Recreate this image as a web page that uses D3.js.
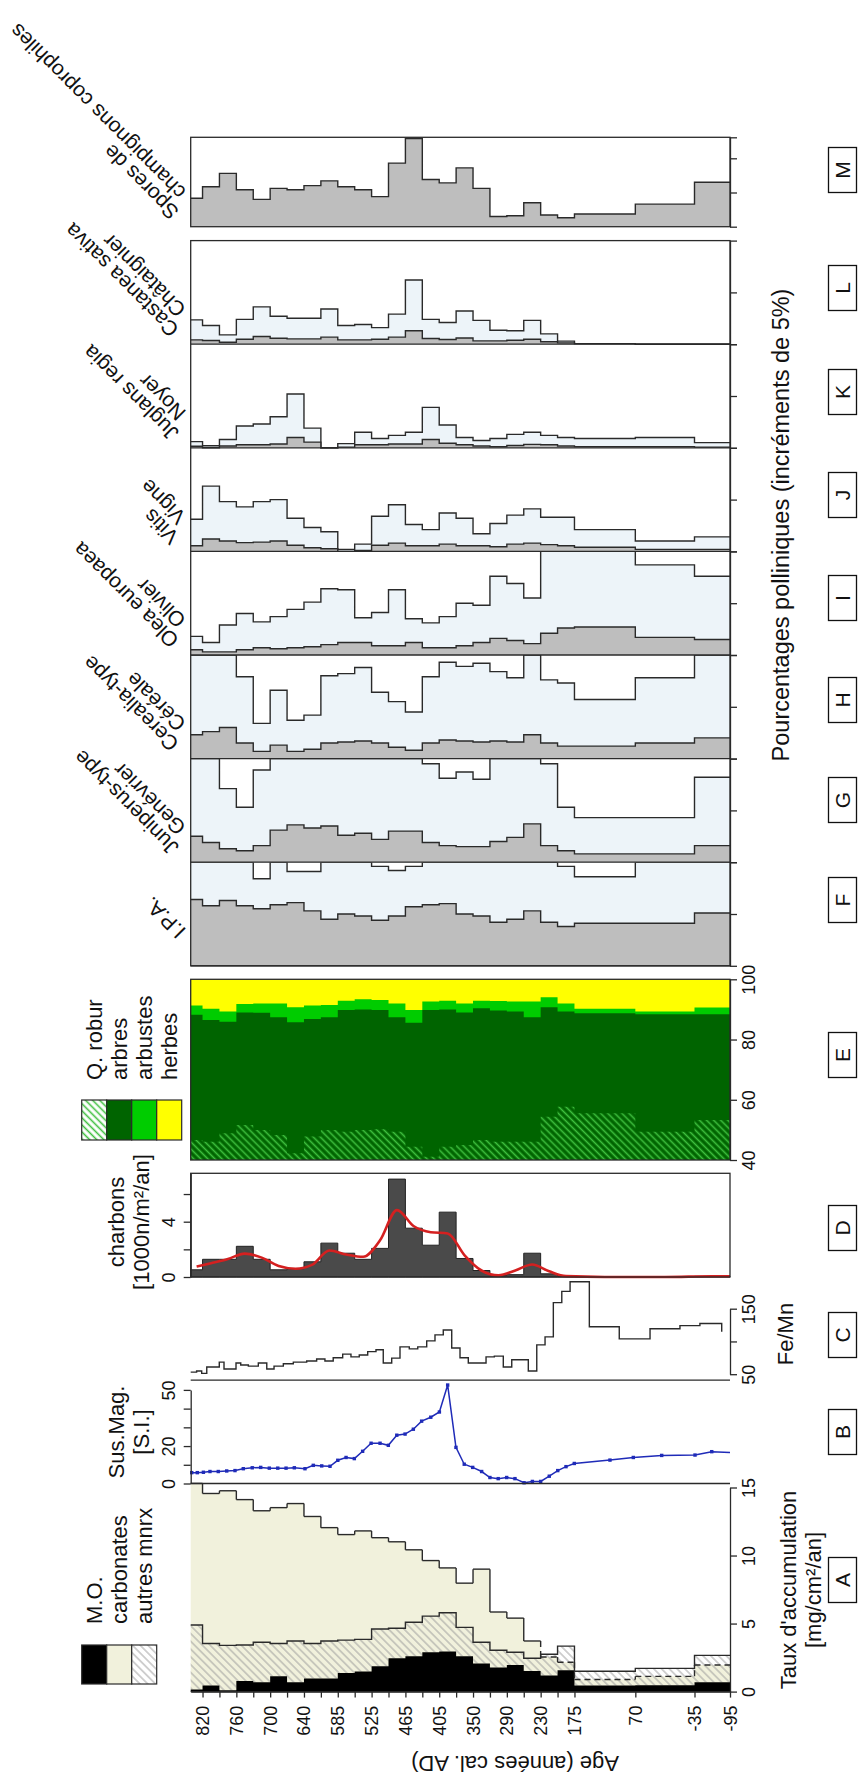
<!DOCTYPE html>
<html><head><meta charset="utf-8">
<script src="https://cdn.jsdelivr.net/npm/d3@7"></script>
<style>
body{margin:0;background:#fff}
svg{display:block}
text{font-family:"Liberation Sans",Arial,Helvetica,sans-serif;fill:#111}
</style></head>
<body><svg width="861" height="1780"></svg>
<script>
// ================= DATA =================
const binEdges=[0,0.7,1.7,2.7,3.7,4.7,5.7,6.7,7.7,8.7,9.7,10.7,11.7,12.7,13.7,14.7,15.7,16.7,17.7,18.7,19.7,20.7,21.7,22.7,26.3,29.8,31.9];
const ageTickDepth=[0.7,2.7,4.7,6.7,8.7,10.7,12.7,14.7,16.7,18.7,20.7,22.7,26.3,29.8,31.9];
const ageTickLabel=["820","760","700","640","585","525","465","405","350","290","230","175","70","-35","-95"];
const ageMinorDepth=[1.7,3.7,5.7,7.7,9.7,11.7,13.7,15.7,17.7,19.7,21.7];

// A : accumulation rates (mg/cm2/an), cumulative tops
const accMO=[0.15,0.44,0.1,0.77,0.68,1.12,0.68,0.97,0.97,1.36,1.48,1.86,2.45,2.6,2.89,2.95,2.6,2.07,1.77,1.95,1.51,1.18,1.56,0.44,0.47,0.68];
const accMOAutres=[4.9,3.54,3.4,3.43,3.63,3.54,3.72,3.54,3.72,3.78,3.84,4.6,4.66,5.1,5.55,5.79,4.72,3.63,3.04,2.89,2.45,2.75,3.34,1.5,1.71,2.66];
const accMOCarb=[15.3,14.56,14.76,14.11,13.29,13.52,13.82,12.87,12.05,11.54,11.81,11.31,11.01,10.42,9.63,9.09,7.97,9.0,5.85,5.4,3.72,2.54,2.16,0.89,1.12,1.95];
const accLegend=["M.O.","carbonates","autres mnrx"];

// B : magnetic susceptibility
const susDepth=[0.06,0.39,0.75,1.14,1.63,2.13,2.62,3.11,3.64,4.14,4.65,5.15,5.64,6.13,6.76,7.25,7.75,8.24,8.7,9.19,9.68,10.17,10.67,11.2,11.69,12.19,12.68,13.17,13.66,14.2,14.71,15.2,15.69,16.18,16.68,17.21,17.7,18.19,18.69,19.18,19.72,20.21,20.7,21.21,21.71,22.2,22.69,24.8,26.18,27.86,29.83,30.82,31.9];
const susVal=[5.8,5.8,6.0,6.4,6.4,6.7,6.9,7.9,8.4,8.6,8.2,8.2,8.2,8.4,7.9,9.7,9.4,9.2,12.4,13.9,13.3,17.2,21.5,21.5,20.4,25.8,26.4,29.0,33.3,35.4,38.2,52.6,19.3,10.3,8.6,6.4,3.2,2.6,3.2,2.6,0.4,1.1,1.1,3.9,6.9,9.0,10.7,12.5,13.9,15.0,15.2,17.0,16.5];

// C : Fe/Mn
const feDepth=[0,0.35,0.65,0.95,1.69,1.97,2.68,2.96,3.41,4.0,4.5,4.93,5.48,6.07,6.86,7.45,7.94,8.43,8.99,9.48,9.97,10.47,10.96,11.39,11.89,12.38,12.93,13.43,13.96,14.45,14.94,15.44,15.93,16.42,17.47,17.96,18.49,18.99,19.97,20.47,20.96,21.45,21.95,22.44,23.58,25.35,27.17,28.94,30.12,31.41];
const feVal=[53.1,54.9,51.2,61,68.4,58,67.2,64.1,62.3,67.2,58,62.3,66,68.4,70.2,73.3,70.2,75.2,80.7,76.4,79.4,84.4,87.4,67.2,74.5,91.7,88.7,91.7,100.9,110.1,117.5,89.9,75.2,67.2,76.4,77.6,61,72.1,54.9,94.8,107,159.2,176.4,191.1,122.4,104,119.3,124.2,127.3,115];

// D : charcoal (1000 n/m2/an) and smoothed curve
const charbons=[0.52,1.28,1.28,2.22,1.28,0.52,0.6,1.1,2.45,1.72,1.28,2.07,7.08,3.53,2.3,4.69,1.34,0.47,0.12,0.17,1.72,0.23,0.06,0.02,0.02,0.05];
const charSmooth=[0.76,1.0,1.3,1.69,1.4,0.8,0.6,0.9,1.92,1.63,1.46,2.65,4.84,3.67,3.24,3.15,1.57,0.47,0.12,0.47,0.9,0.41,0.06,0,0,0.05];

// E : pollen sums (cumulative %)
const qRobur=[46.6,46.1,48.9,51.6,50.0,48.3,42.2,47.8,50.0,49.4,50.0,50.2,49.4,44.4,41.1,44.4,45.0,46.6,46.1,46.1,46.1,54.4,57.7,55.5,49.4,53.3];
const arbres=[88.2,86.5,85.9,89.0,88.9,87.4,85.7,86.8,87.4,89.8,90.0,89.8,87.4,85.6,89.8,90.0,89.0,90.4,89.6,89.3,87.4,90.7,89.3,88.7,88.4,88.4];
const arbustes=[91.3,90.2,89.3,91.8,92.0,92.0,90.7,91.3,91.5,92.9,93.4,93.1,92.0,89.8,92.6,92.9,92.0,92.9,92.8,92.6,92.6,94.0,92.0,90.2,89.3,90.6];
const sumLegend=["Q. robur","arbres","arbustes","herbes"];

// F-M : pollen taxa (panel units, 5 % per tick), gray = value, light = exaggerated
const ipaGray=[6.4,5.8,6.3,5.8,5.5,5.9,6.1,5.3,4.5,5.0,4.8,4.4,4.8,5.7,5.9,6.0,5.0,4.8,4.2,4.5,5.3,4.2,3.8,4.1,4.1,5.1];
const ipaLight=[10,10,10,10,8.4,10,9.1,9.1,10,10,10,9.6,9.2,9.6,10,10,10,10,10,10,10,10,9.6,8.6,10,10];
const juniGray=[2.5,1.9,1.3,1.1,1.6,3.1,3.6,3.3,3.5,2.6,2.8,2.2,3.0,3.0,1.9,1.6,1.5,1.5,2.0,2.4,3.7,1.6,1.1,0.8,0.8,1.6];
const juniLight=[10,10,7.1,5.3,8.9,10,10,10,10,10,10,10,10,10,9.5,8.1,8.7,8.0,10,10,10,9.5,5.3,4.3,4.3,8.2];
const cereGray=[2.3,2.6,3.0,1.5,0.7,1.3,0.7,0.9,1.5,1.6,1.7,1.5,1.1,0.8,1.5,1.8,1.7,1.6,1.7,1.6,2.3,1.5,1.2,1.2,1.5,2.0];
const cereLight=[10,10,10,7.9,3.4,6.6,3.7,4.2,8.0,8.2,8.8,6.4,5.5,4.5,7.9,9.3,8.9,9.2,8.4,7.8,10,7.6,7.3,5.7,7.8,10];
const oleaGray=[0.5,0.3,0.3,0.5,0.7,0.6,0.7,0.8,1.0,1.2,1.2,0.9,0.9,1.2,0.7,0.7,0.9,1.2,1.6,1.4,1.1,2.1,2.6,2.7,1.7,1.5];
const oleaLight=[1.8,1.2,2.9,4.0,3.2,3.7,4.4,5.1,6.4,6.3,3.6,4.1,6.3,3.5,3.1,3.7,5.0,4.8,7.6,6.9,5.5,10,10,10,8.7,7.6];
const vitisGray=[0.55,1.2,1.0,0.85,0.9,1.0,0.6,0.35,0.25,0,0.1,0.6,0.8,0.55,0.55,0.7,0.55,0.55,0.45,0.7,0.8,0.65,0.55,0.4,0.2,0.2];
const vitisLight=[3.1,6.3,4.8,4.3,4.8,5.0,3.2,2.3,1.9,0.2,0.7,3.4,4.5,2.6,2.1,3.7,3.2,1.7,2.7,3.5,4.1,3.3,3.3,2.1,1.0,1.4];
const juglGray=[0.15,0,0.18,0.3,0.3,0.36,1.0,0.55,0,0.07,0.3,0.3,0.36,0.36,0.8,0.44,0.3,0.18,0.11,0.22,0.33,0.3,0.18,0.11,0.11,0.07];
const juglLight=[0.6,0.2,0.8,2.1,2.3,3.0,5.2,1.9,0,0.4,1.5,0.9,1.2,1.5,3.9,2.2,1.0,0.7,0.9,1.3,1.5,1.2,1.0,0.9,1.0,0.5];
const castGray=[0.42,0.35,0.19,0.48,0.74,0.58,0.51,0.51,0.68,0.42,0.42,0.48,0.68,1.3,0.55,0.45,0.6,0.32,0.32,0.38,0.48,0.23,0.13,0.06,0,0];
const castLight=[2.35,1.8,0.9,2.4,3.6,2.7,2.5,2.5,3.4,1.8,1.9,1.6,2.9,6.2,2.4,2.1,3.2,2.3,1.35,1.3,2.3,1.0,0.3,0.06,0,0];
const sporesGray=[4.15,5.85,7.8,5.4,4.0,5.6,5.4,6.0,6.7,5.85,5.4,4.4,9.3,12.9,6.9,6.4,8.6,5.6,1.5,1.6,3.5,1.7,1.3,1.85,3.3,6.5];
const taxaLabels=[["I.P.A."],["Juniperus-type","Genévrier"],["Cerealia-type","Céréale"],["Olea europaea","Olivier"],["Vitis","Vigne"],["Juglans regia","Noyer"],["Castanea sativa","Châtaignier"],["Spores de","champignons coprophiles"]];
const panelLetters=["A","B","C","D","E","F","G","H","I","J","K","L","M"];

// ================= DRAWING =================
const svg=d3.select("svg");
const X0=190.7,X1=730;
const dScale=d3.scaleLinear().domain([0,31.9]).range([X0,X1]);
const steps=vals=>binEdges.map((e,i)=>({d:e,v:vals[Math.min(i,vals.length-1)]}));
const stepArea=(ys,vals,base=0)=>d3.area().curve(d3.curveStepAfter).x(p=>dScale(p.d)).y0(ys(base)).y1(p=>ys(p.v))(steps(vals));
const stepLine=(ys,vals)=>d3.line().curve(d3.curveStepAfter).x(p=>dScale(p.d)).y(p=>ys(p.v))(steps(vals));
const LINE="#2a2a2a", T1=22, T2=18, TL=21;

const defs=svg.append("defs");
function hatch(id,color,gap,sw,bg){
  const p=defs.append("pattern").attr("id",id).attr("patternUnits","userSpaceOnUse")
    .attr("width",gap).attr("height",gap).attr("patternTransform","rotate(-45)");
  if(bg)p.append("rect").attr("width",gap).attr("height",gap).attr("fill",bg);
  p.append("line").attr("x1",gap/2).attr("y1",0).attr("x2",gap/2).attr("y2",gap).attr("stroke",color).attr("stroke-width",sw);
}
hatch("hA","#9a9a9a",5.5,0.9,null);
hatch("hAleg","#9a9a9a",5.5,0.9,"#fff");
hatch("hE","#3fbf3f",5,1.6,null);
hatch("hEleg","#3fbf3f",5,1.6,"#fff");

function vtext(x,y,str,anchor,size,rot=-90){
  return svg.append("text").attr("transform",`translate(${x},${y}) rotate(${rot})`)
    .attr("text-anchor",anchor).attr("dominant-baseline","central").attr("font-size",size).text(str);
}
function styleAxis(g,offset){
  g.select(".domain").attr("stroke",LINE).attr("stroke-width",1.3);
  g.selectAll(".tick line").attr("stroke",LINE).attr("stroke-width",1.3);
  g.selectAll(".tick text").attr("x",0).attr("dy",null).attr("transform",`translate(${offset},0) rotate(-90)`)
    .attr("text-anchor","middle").attr("dominant-baseline","central").attr("font-size",T2).attr("fill","#111");
  g.attr("font-family",null);
}
function rightAxis(ys,ticks,labels,offset=19){
  const g=svg.append("g").attr("transform",`translate(${X1},0)`)
    .call(d3.axisRight(ys).tickValues(ticks).tickSize(7).tickSizeOuter(0).tickFormat((d,i)=>labels?labels[i]:""));
  styleAxis(g,offset);return g;
}
function leftAxis(ys,ticks,labels,offset=-22){
  const g=svg.append("g").attr("transform",`translate(${X0},0)`)
    .call(d3.axisLeft(ys).tickValues(ticks).tickSize(7).tickSizeOuter(0).tickFormat((d,i)=>labels[i]));
  styleAxis(g,offset);return g;
}
const hline=(y,x0=X0,x1=X1)=>svg.append("line").attr("x1",x0).attr("x2",x1).attr("y1",y).attr("y2",y).attr("stroke",LINE).attr("stroke-width",1.3);
const box=(y0,y1)=>svg.append("rect").attr("x",X0).attr("y",y0).attr("width",X1-X0).attr("height",y1-y0).attr("fill","none").attr("stroke",LINE).attr("stroke-width",1.3);

// ---------- Panel A ----------
const yA=d3.scaleLinear().domain([0,15]).range([1691.6,1487.5]);
svg.append("path").attr("d",stepArea(yA,accMOCarb)).attr("fill","#f1f1dc");
const hatchData=binEdges.map((e,i)=>{const k=Math.min(i,accMO.length-1);return{d:e,lo:accMO[k],hi:accMOAutres[k]};});
svg.append("path").attr("d",d3.area().curve(d3.curveStepAfter).x(p=>dScale(p.d)).y0(p=>yA(p.lo)).y1(p=>yA(p.hi))(hatchData)).attr("fill","url(#hA)");
svg.append("path").attr("d",stepArea(yA,accMO)).attr("fill","#000");
svg.append("path").attr("d",stepLine(yA,accMOAutres)).attr("fill","none").attr("stroke",LINE).attr("stroke-width",1.4);
accMOCarb.forEach((v,i)=>{
  const dashed=v<accMOAutres[i];
  svg.append("line").attr("x1",dScale(binEdges[i])).attr("x2",dScale(binEdges[i+1])).attr("y1",yA(v)).attr("y2",yA(v))
    .attr("stroke",LINE).attr("stroke-width",1.4).attr("stroke-dasharray",dashed?"6,4":null);
  if(i<accMOCarb.length-1){
    const v2=accMOCarb[i+1];const d2=dashed||v2<accMOAutres[i+1];
    svg.append("line").attr("x1",dScale(binEdges[i+1])).attr("x2",dScale(binEdges[i+1])).attr("y1",yA(v)).attr("y2",yA(v2))
      .attr("stroke",LINE).attr("stroke-width",1.4).attr("stroke-dasharray",d2?"6,4":null);
  }
});
rightAxis(yA,[0,5,10,15],["0","5","10","15"]);
hline(yA(0));
{
  const ticks=ageTickDepth.concat(ageMinorDepth);
  const g=svg.append("g").attr("transform",`translate(0,${yA(0)})`)
    .call(d3.axisBottom(dScale).tickValues(ticks).tickSize(6).tickSizeOuter(0)
      .tickFormat(d=>{const i=ageTickDepth.indexOf(d);return i>=0?ageTickLabel[i]:"";}));
  g.select(".domain").attr("stroke",LINE).attr("stroke-width",1.3);
  g.selectAll(".tick line").attr("stroke",LINE).attr("stroke-width",1.3);
  g.selectAll(".tick text").attr("y",0).attr("dy",null).attr("transform","translate(0,14) rotate(-90)")
    .attr("text-anchor","end").attr("dominant-baseline","central").attr("font-size",T2).attr("fill","#111");
  g.attr("font-family",null);
}
vtext(515,1763,"Age (années cal. AD)","middle",T1,180);
vtext(788,1590,"Taux d'accumulation","middle",T1);
vtext(813,1590,"[mg/cm²/an]","middle",T1);
accLegend.forEach((lab,i)=>{
  const x=81.7+i*25;
  svg.append("rect").attr("x",x).attr("y",1645).attr("width",25).attr("height",39)
    .attr("fill",i===0?"#000":i===1?"#f1f1dc":"url(#hAleg)").attr("stroke",LINE).attr("stroke-width",1.2);
  vtext(x+12.5,1624,lab,"start",T1);
});

// ---------- Panel B ----------
const yB=d3.scaleLinear().domain([0,50]).range([1483.5,1389.9]);
const susPts=susDepth.map((d,i)=>({d,v:susVal[i]}));
svg.append("path").attr("d",d3.line().x(p=>dScale(p.d)).y(p=>yB(p.v))(susPts)).attr("fill","none").attr("stroke","#1f2bb8").attr("stroke-width",1.5);
svg.selectAll(".susp").data(susPts.slice(0,-1)).join("rect").attr("x",p=>dScale(p.d)-1.7).attr("y",p=>yB(p.v)-1.7)
  .attr("width",3.4).attr("height",3.4).attr("fill","#1f2bb8");
leftAxis(yB,[0,10,20,30,40,50],["0","","20","","","50"]);
vtext(116.7,1432,"Sus.Mag.","middle",T1);
vtext(141.7,1432,"[S.I.]","middle",T1);
hline(1483.5);hline(1380.2);

// ---------- Panel C ----------
const yC=d3.scaleLinear().domain([50,150]).range([1374.2,1308.7]);
const fePts=feDepth.map((d,i)=>({d,v:feVal[i]}));
svg.append("path").attr("d",d3.line().curve(d3.curveStepAfter).x(p=>dScale(p.d)).y(p=>yC(p.v))(fePts)).attr("fill","none").attr("stroke",LINE).attr("stroke-width",1.4);
rightAxis(yC,[50,100,150],["50","","150"]);
vtext(785,1334,"Fe/Mn","middle",T1);

// ---------- Panel D ----------
const yD=d3.scaleLinear().domain([0,7.5]).range([1277,1173.3]);
svg.append("path").attr("d",stepArea(yD,charbons)).attr("fill","#4a4a4a").attr("stroke","#222").attr("stroke-width",1);
const centers=charSmooth.map((v,i)=>({d:(binEdges[i]+binEdges[i+1])/2,v}));
centers.push({d:binEdges[binEdges.length-1],v:charSmooth[charSmooth.length-1]});
svg.append("path").attr("d",d3.line().curve(d3.curveMonotoneX).x(p=>dScale(p.d)).y(p=>yD(p.v))(centers)).attr("fill","none").attr("stroke","#d42020").attr("stroke-width",2.6);
box(1173.3,1277);
leftAxis(yD,[0,2,4,6],["0","","4",""]);
vtext(116.7,1222,"charbons","middle",T1);
vtext(141.7,1222,"[1000n/m²/an]","middle",T1);

// ---------- Panel E ----------
const yE=d3.scaleLinear().domain([40,100]).range([1160,979.3]);
svg.append("rect").attr("x",X0).attr("y",979.3).attr("width",X1-X0).attr("height",1160-979.3).attr("fill","#ffff00");
svg.append("path").attr("d",stepArea(yE,arbustes,40)).attr("fill","#00cc00");
svg.append("path").attr("d",stepArea(yE,arbres,40)).attr("fill","#006400");
svg.append("path").attr("d",stepArea(yE,qRobur,40)).attr("fill","url(#hE)");
box(979.3,1160);
rightAxis(yE,[40,60,80,100],["40","60","80","100"]);
sumLegend.forEach((lab,i)=>{
  const x=81.7+i*25;
  svg.append("rect").attr("x",x).attr("y",1100).attr("width",25).attr("height",40)
    .attr("fill",["url(#hEleg)","#006400","#00cc00","#ffff00"][i]).attr("stroke",LINE).attr("stroke-width",1.2);
  vtext(x+12.5,1080,lab,"start",T1);
});

// ---------- Panels F-L (stacked) and M ----------
const pollen=[[ipaGray,ipaLight],[juniGray,juniLight],[cereGray,cereLight],[oleaGray,oleaLight],[vitisGray,vitisLight],[juglGray,juglLight],[castGray,castLight]];
const PB=965.8, PH=103.6;
pollen.forEach(([gr,li],k)=>{
  const base=PB-k*PH;
  const ys=d3.scaleLinear().domain([0,10]).range([base,base-PH]);
  svg.append("path").attr("d",stepArea(ys,li)).attr("fill","#edf4f9");
  svg.append("path").attr("d",stepLine(ys,li)).attr("fill","none").attr("stroke",LINE).attr("stroke-width",1.4);
  svg.append("path").attr("d",stepArea(ys,gr)).attr("fill","#bebebe");
  svg.append("path").attr("d",stepLine(ys,gr)).attr("fill","none").attr("stroke",LINE).attr("stroke-width",1.4);
  hline(base);
  rightAxis(ys,[0,5,10],null);
});
box(PB-7*PH,PB);
const yM=d3.scaleLinear().domain([0,13.07]).range([226.7,137.3]);
svg.append("path").attr("d",stepArea(yM,sporesGray)).attr("fill","#bebebe");
svg.append("path").attr("d",stepLine(yM,sporesGray)).attr("fill","none").attr("stroke",LINE).attr("stroke-width",1.4);
box(137.3,226.7);
rightAxis(yM,[0,5,10,13.07],null);

// taxa labels (rotated, last line nearest to the panel)
const labelBase=[PB,PB-PH,PB-2*PH,PB-3*PH,PB-4*PH,PB-5*PH,PB-6*PH,226.7];
taxaLabels.forEach((lines,k)=>{
  const n=lines.length;
  lines.forEach((s,j)=>{
    const back=n-1-j;
    const x=187-7*back, y=labelBase[k]-36+20*back;
    svg.append("text").attr("transform",`translate(${x},${y}) rotate(-135)`)
      .attr("text-anchor","start").attr("font-size",TL).text(s);
  });
});
vtext(781,525,"Pourcentages polliniques (incréments de 5%)","middle",23.5);

// ---------- letter boxes ----------
const letterY=[1580,1432,1335,1228,1055,900,800,700,598,495,392,288,170];
panelLetters.forEach((L,i)=>{
  svg.append("rect").attr("x",828.5).attr("y",letterY[i]-22.5).attr("width",28).attr("height",45).attr("fill","#fff").attr("stroke","#111").attr("stroke-width",1.3);
  vtext(842.5,letterY[i],L,"middle",21);
});
</script></body></html>
